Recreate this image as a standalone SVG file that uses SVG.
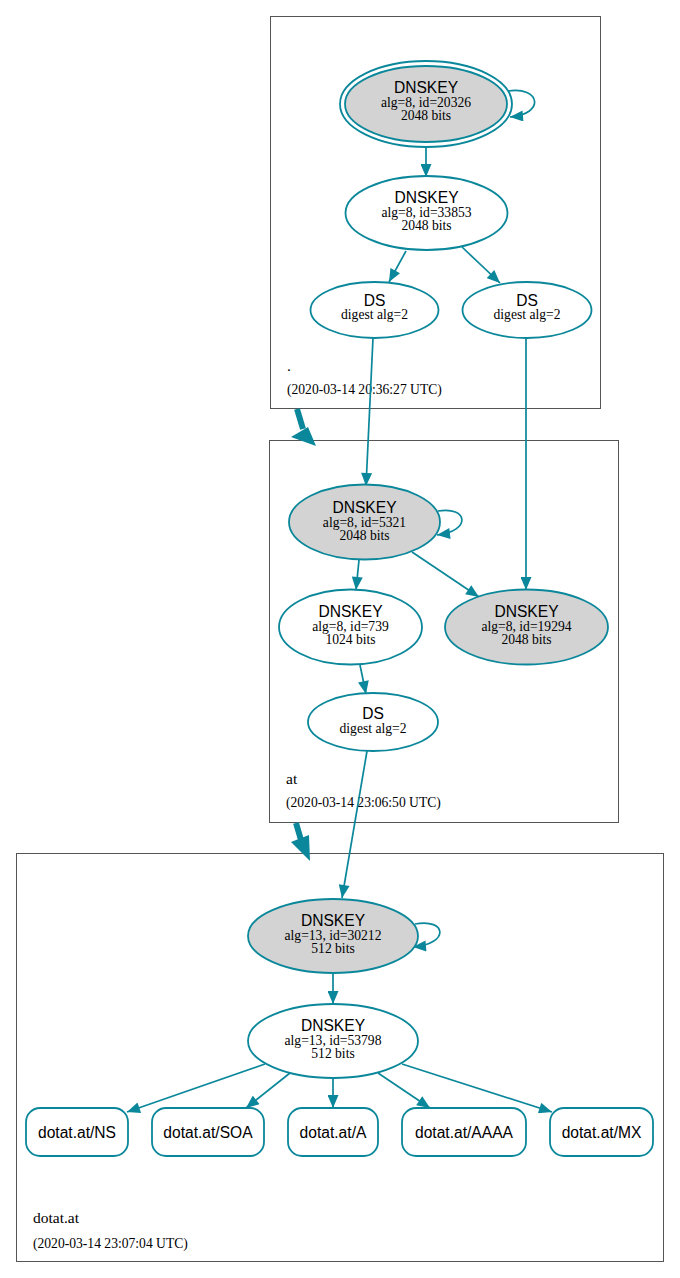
<svg xmlns="http://www.w3.org/2000/svg" width="680" height="1278" viewBox="0 0 680 1278">
<style>
.cl{fill:#ffffff;stroke:#555555;stroke-width:1}
.n{fill:#ffffff;stroke:#0a879a;stroke-width:1.8}
.k{fill:#d3d3d3;stroke:#0a879a;stroke-width:1.8}
.e{fill:none;stroke:#0a879a;stroke-width:1.7;marker-end:url(#ah)}
.t1{font-family:"Liberation Sans",Arial,sans-serif;font-size:15.6px;fill:#000;text-anchor:middle}
.t2{font-family:"Liberation Serif","Times New Roman",serif;font-size:13.6px;fill:#000;text-anchor:middle}
.cn{font-family:"Liberation Serif","Times New Roman",serif;font-size:15.5px;fill:#000}
.cd{font-family:"Liberation Serif","Times New Roman",serif;font-size:13.6px;fill:#000}
.th{fill:none;stroke:#0a879a;stroke-width:6}
.ta{fill:#0a879a;stroke:none}
</style>
<defs>
<marker id="ah" markerUnits="userSpaceOnUse" markerWidth="14" markerHeight="11" refX="13" refY="5.5" orient="auto" viewBox="0 0 13 11">
<path d="M0,0 L13,5.5 L0,11 z" fill="#0a879a"/>
</marker>
</defs>
<rect width="680" height="1278" fill="#ffffff"/>

<g id="cluster-root">
<rect class="cl" x="270.5" y="16.5" width="330" height="392"/>
<text class="cn" x="287" y="371">.</text>
<text class="cd" x="287" y="394">(2020-03-14 20:36:27 UTC)</text>
</g>
<g id="cluster-at">
<rect class="cl" x="269.5" y="440.5" width="349" height="382"/>
<text class="cn" x="286" y="784">at</text>
<text class="cd" x="286" y="807">(2020-03-14 23:06:50 UTC)</text>
</g>
<g id="cluster-dotat">
<rect class="cl" x="16.5" y="853.5" width="647" height="408"/>
<text class="cn" x="33" y="1223">dotat.at</text>
<text class="cd" x="33" y="1248">(2020-03-14 23:07:04 UTC)</text>
</g>

<g id="connectors">
<path class="e" d="M426,148 L426,177"/>
<path class="e" d="M508,91 C540,86 546,114 510,117"/>
<path class="e" d="M406,251 L389,282"/>
<path class="e" d="M462,247 L500,283"/>
<path class="e" d="M373,338 L366,486"/>
<path class="e" d="M526,338 L526,590"/>
<path class="e" d="M438,511 C468,506 472,531 437,535"/>
<path class="e" d="M359,560 L356,590"/>
<path class="e" d="M412,552 L479,597"/>
<path class="e" d="M360,665 L366,694"/>
<path class="e" d="M367,751 L342,898"/>
<path class="e" d="M415,924 C447,918 450,944 413,947"/>
<path class="e" d="M333,973 L333,1004"/>
<path class="e" d="M265,1064 L127,1112"/>
<path class="e" d="M290,1073 L246,1108"/>
<path class="e" d="M333,1078 L333,1108"/>
<path class="e" d="M378,1073 L430,1108"/>
<path class="e" d="M402,1064 L552,1112"/>
<path class="th" d="M297,409 L303,429"/>
<polygon class="ta" points="291,437 308,427 316,446"/>
<path class="th" d="M296,823 L301,840"/>
<polygon class="ta" points="291,842 309,835 310,861"/>
</g>

<g id="dnskey-20326">
<ellipse class="n" cx="426" cy="104" rx="86" ry="43"/>
<ellipse class="k" cx="426" cy="104" rx="81" ry="38"/>
<text class="t1" x="426" y="93">DNSKEY</text>
<text class="t2" x="426" y="107">alg=8, id=20326</text>
<text class="t2" x="426" y="120">2048 bits</text>
</g>
<g id="dnskey-33853">
<ellipse class="n" cx="426.5" cy="213" rx="81" ry="37"/>
<text class="t1" x="426.5" y="203">DNSKEY</text>
<text class="t2" x="426.5" y="217">alg=8, id=33853</text>
<text class="t2" x="426.5" y="230">2048 bits</text>
</g>
<g id="ds-root-1">
<ellipse class="n" cx="374.5" cy="310" rx="64" ry="28"/>
<text class="t1" x="374.5" y="306">DS</text>
<text class="t2" x="374.5" y="319">digest alg=2</text>
</g>
<g id="ds-root-2">
<ellipse class="n" cx="527" cy="310" rx="64.5" ry="28"/>
<text class="t1" x="527" y="306">DS</text>
<text class="t2" x="527" y="319">digest alg=2</text>
</g>

<g id="dnskey-5321">
<ellipse class="k" cx="364.5" cy="522" rx="75.5" ry="37.5"/>
<text class="t1" x="364.5" y="513">DNSKEY</text>
<text class="t2" x="364.5" y="527">alg=8, id=5321</text>
<text class="t2" x="364.5" y="540">2048 bits</text>
</g>
<g id="dnskey-739">
<ellipse class="n" cx="350.5" cy="627" rx="71.5" ry="37.5"/>
<text class="t1" x="350.5" y="617">DNSKEY</text>
<text class="t2" x="350.5" y="631">alg=8, id=739</text>
<text class="t2" x="350.5" y="644">1024 bits</text>
</g>
<g id="dnskey-19294">
<ellipse class="k" cx="526.5" cy="627" rx="81.5" ry="37.5"/>
<text class="t1" x="526.5" y="617">DNSKEY</text>
<text class="t2" x="526.5" y="631">alg=8, id=19294</text>
<text class="t2" x="526.5" y="644">2048 bits</text>
</g>
<g id="ds-at">
<ellipse class="n" cx="373" cy="722" rx="65" ry="29"/>
<text class="t1" x="373" y="719">DS</text>
<text class="t2" x="373" y="733">digest alg=2</text>
</g>

<g id="dnskey-30212">
<ellipse class="k" cx="333" cy="936" rx="85" ry="37"/>
<text class="t1" x="333" y="926">DNSKEY</text>
<text class="t2" x="333" y="940">alg=13, id=30212</text>
<text class="t2" x="333" y="953">512 bits</text>
</g>
<g id="dnskey-53798">
<ellipse class="n" cx="333" cy="1041" rx="85" ry="37"/>
<text class="t1" x="333" y="1031">DNSKEY</text>
<text class="t2" x="333" y="1045">alg=13, id=53798</text>
<text class="t2" x="333" y="1058">512 bits</text>
</g>
<g id="rr-ns">
<rect class="n" x="26" y="1108" width="102" height="48" rx="14"/>
<text class="t1" x="77" y="1138">dotat.at/NS</text>
</g>
<g id="rr-soa">
<rect class="n" x="152" y="1108" width="112" height="48" rx="14"/>
<text class="t1" x="208" y="1138">dotat.at/SOA</text>
</g>
<g id="rr-a">
<rect class="n" x="288" y="1108" width="90" height="48" rx="14"/>
<text class="t1" x="333" y="1138">dotat.at/A</text>
</g>
<g id="rr-aaaa">
<rect class="n" x="402" y="1108" width="124" height="48" rx="14"/>
<text class="t1" x="464" y="1138">dotat.at/AAAA</text>
</g>
<g id="rr-mx">
<rect class="n" x="550" y="1108" width="103" height="48" rx="14"/>
<text class="t1" x="601.5" y="1138">dotat.at/MX</text>
</g>
</svg>
